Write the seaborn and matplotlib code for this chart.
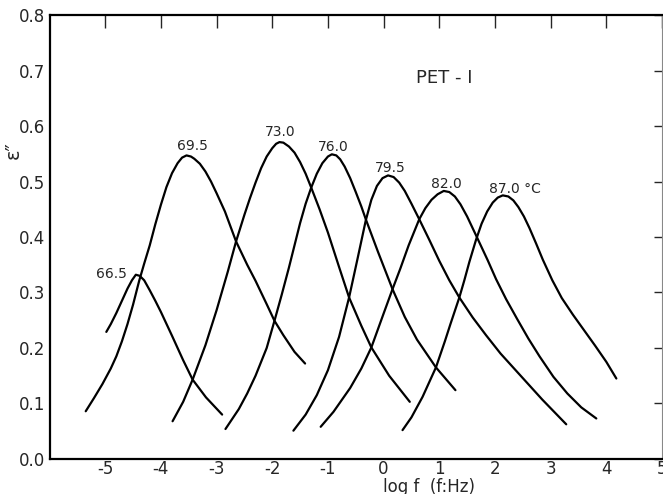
import matplotlib
matplotlib.use("Agg")
import matplotlib.pyplot as plt
import seaborn as sns
import pandas as pd

sns.set_style("white")
plt.rcParams['font.family'] = ['DejaVu Sans']

# dielectric loss curves (log f, eps'')
temps = ["66.5", "69.5", "73.0", "76.0", "79.5", "82.0", "87.0"]

x665 = [-4.98, -4.90, -4.80, -4.70, -4.60, -4.52, -4.45, -4.38, -4.30, -4.20, -4.10, -4.00,
        -3.80, -3.60, -3.43, -3.19, -2.90]
y665 = [0.229, 0.243, 0.263, 0.285, 0.307, 0.322, 0.332, 0.330, 0.322, 0.304, 0.285, 0.265,
        0.222, 0.178, 0.143, 0.111, 0.080]

x695 = [-5.35, -5.20, -5.05, -4.90, -4.80, -4.70, -4.60, -4.50, -4.39, -4.30, -4.20, -4.10,
        -4.00, -3.90, -3.80, -3.70, -3.62, -3.54, -3.46, -3.40, -3.30, -3.20, -3.10, -3.00,
        -2.85, -2.65, -2.45, -2.30, -2.10, -1.96, -1.80, -1.60, -1.41]
y695 = [0.086, 0.110, 0.135, 0.163, 0.185, 0.212, 0.243, 0.278, 0.321, 0.352, 0.385, 0.423,
        0.458, 0.490, 0.515, 0.533, 0.543, 0.547, 0.545, 0.541, 0.532, 0.518, 0.500, 0.479,
        0.446, 0.392, 0.350, 0.321, 0.279, 0.249, 0.223, 0.193, 0.172]

x730 = [-3.79, -3.60, -3.43, -3.20, -3.00, -2.80, -2.65, -2.50, -2.40, -2.30, -2.20, -2.10,
        -2.00, -1.93, -1.87, -1.80, -1.70, -1.60, -1.50, -1.40, -1.30, -1.15, -1.00, -0.80,
        -0.62, -0.40, -0.22, 0.10, 0.47]
y730 = [0.068, 0.103, 0.143, 0.205, 0.268, 0.337, 0.392, 0.440, 0.470, 0.498, 0.524, 0.545,
        0.560, 0.568, 0.571, 0.570, 0.563, 0.552, 0.535, 0.514, 0.489, 0.450, 0.408, 0.346,
        0.291, 0.240, 0.201, 0.150, 0.103]

x760 = [-2.84, -2.60, -2.45, -2.30, -2.10, -1.96, -1.83, -1.70, -1.60, -1.50, -1.40, -1.30,
        -1.20, -1.10, -1.00, -0.93, -0.85, -0.78, -0.70, -0.60, -0.50, -0.40, -0.32, -0.10,
        0.16, 0.38, 0.60, 0.94, 1.29]
y760 = [0.054, 0.090, 0.118, 0.150, 0.200, 0.249, 0.296, 0.345, 0.385, 0.425, 0.460, 0.489,
        0.514, 0.533, 0.545, 0.549, 0.547, 0.540, 0.527, 0.506, 0.481, 0.455, 0.432, 0.373,
        0.306, 0.256, 0.215, 0.165, 0.124]

x795 = [-1.62, -1.40, -1.20, -1.00, -0.80, -0.62, -0.47, -0.32, -0.22, -0.12, -0.02, 0.08,
        0.18, 0.28, 0.38, 0.50, 0.64, 0.82, 1.00, 1.18, 1.36, 1.60, 1.84, 2.10, 2.38, 2.85, 3.28]
y795 = [0.051, 0.080, 0.115, 0.160, 0.220, 0.291, 0.360, 0.430, 0.467, 0.492, 0.506, 0.511,
        0.508, 0.498, 0.483, 0.460, 0.432, 0.395, 0.357, 0.322, 0.291, 0.255, 0.223, 0.190,
        0.159, 0.107, 0.0625]

x820 = [-1.13, -0.90, -0.60, -0.40, -0.22, 0.00, 0.16, 0.30, 0.45, 0.64, 0.75, 0.86, 0.97,
        1.08, 1.18, 1.28, 1.38, 1.50, 1.66, 1.87, 2.02, 2.20, 2.40, 2.60, 2.80, 3.05, 3.30,
        3.55, 3.82]
y820 = [0.058, 0.085, 0.128, 0.163, 0.201, 0.262, 0.306, 0.343, 0.385, 0.432, 0.452, 0.467,
        0.477, 0.483, 0.481, 0.473, 0.459, 0.437, 0.403, 0.358, 0.324, 0.288, 0.252, 0.217,
        0.185, 0.148, 0.118, 0.093, 0.073]

x870 = [0.34, 0.50, 0.70, 0.94, 1.10, 1.20, 1.36, 1.45, 1.54, 1.66, 1.76, 1.86, 1.96, 2.05,
        2.14, 2.24, 2.33, 2.42, 2.52, 2.62, 2.74, 2.86, 3.03, 3.20, 3.40, 3.60, 3.80, 4.00, 4.18]
y870 = [0.052, 0.075, 0.112, 0.165, 0.212, 0.243, 0.291, 0.322, 0.355, 0.395, 0.424, 0.446,
        0.462, 0.471, 0.475, 0.473, 0.466, 0.454, 0.437, 0.416, 0.388, 0.359, 0.322, 0.290,
        0.260, 0.232, 0.204, 0.175, 0.145]

# peak labels
label_text = ["66.5", "69.5", "73.0", "76.0", "79.5", "82.0", "87.0 \u00b0C"]
label_x = [-4.89, -3.43, -1.855, -0.90, 0.115, 1.12, 2.355]
label_y = [0.333, 0.564, 0.590, 0.563, 0.524, 0.496, 0.486]

xticks = [-5, -4, -3, -2, -1, 0, 1, 2, 3, 4, 5]
xtick_labels = ["-5", "-4", "-3", "-2", "-1", "0", "1", "2", "3", "4", "5"]
yticks = [0.0, 0.1, 0.2, 0.3, 0.4, 0.5, 0.6, 0.7, 0.8]
ytick_labels = ["0.0", "0.1", "0.2", "0.3", "0.4", "0.5", "0.6", "0.7", "0.8"]

curves = [(x665, y665), (x695, y695), (x730, y730), (x760, y760),
          (x795, y795), (x820, y820), (x870, y870)]
rows = []
for t, (xs, ys) in zip(temps, curves):
    for a, b in zip(xs, ys):
        rows.append([t, a, b])
df = pd.DataFrame(rows, columns=["T", "logf", "eps"])

fig = plt.figure(figsize=(6.63, 4.94), dpi=100)
ax = fig.add_axes([0.0747, 0.0709, 0.9238, 0.8987])

sns.lineplot(data=df, x="logf", y="eps", units="T", estimator=None, sort=False,
             color="black", linewidth=1.6, ax=ax)
for ln in ax.lines:
    ln.set_solid_joinstyle("round")

for s, lx, ly in zip(label_text, label_x, label_y):
    ax.text(lx, ly, s, ha="center", va="center", fontsize=10)

ax.text(1.09, 0.687, "PET - I", ha="center", va="center", fontsize=13)

ax.set_xlim(-6, 5)
ax.set_ylim(0, 0.8)
ax.set_xticks(xticks)
ax.set_xticklabels(xtick_labels, fontsize=12)
ax.set_yticks(yticks)
ax.set_yticklabels(ytick_labels, fontsize=12)
ax.tick_params(axis="x", direction="in", top=True, length=9, width=1, pad=1)
ax.tick_params(axis="y", direction="in", right=True, length=6, width=1, pad=3)

ax.set_xlabel("")
ax.set_ylabel("")
ax.text(0.619, -0.063, "log f  (f:Hz)", transform=ax.transAxes,
        ha="center", va="center", fontsize=12)
fig.text(0.02, 0.697, "\u03b5\u2033", rotation=90, ha="center", va="center", fontsize=14)

for sp in ["left", "bottom", "top"]:
    ax.spines[sp].set_color("black")
    ax.spines[sp].set_linewidth(1.6)
ax.spines["right"].set_color("#888888")
ax.spines["right"].set_linewidth(0.8)

fig.savefig("out.png", dpi=100)
